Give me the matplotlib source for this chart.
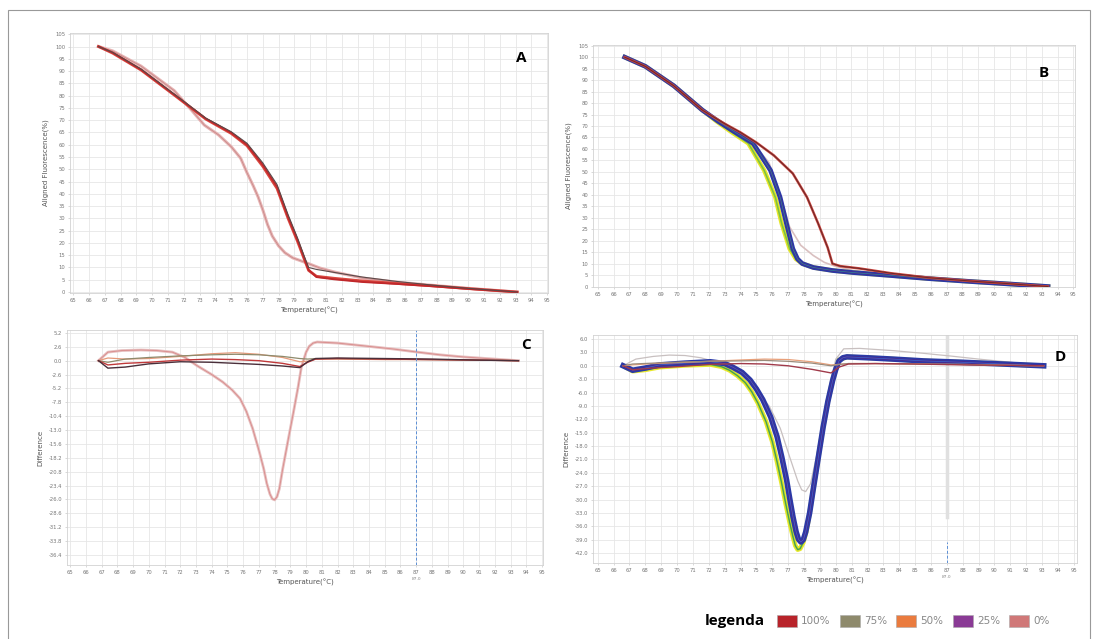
import matplotlib
matplotlib.use('Agg')

import numpy as np
import matplotlib.pyplot as plt
from matplotlib.patches import Patch, Rectangle

# temperature ticks shared by all four panels
temp_ticks = list(range(65, 96))

# --- A: aligned fluorescence, one sample set ---
a_temp = [66.6, 67.5, 69.3, 71.4, 73.4, 75.0, 76.0, 77.0, 77.9, 78.6, 79.2,
          79.6, 79.9, 80.4, 81.5, 83.3, 85.5, 87.6, 90.0, 93.1]
a_100 = [100, 97.5, 90.6, 80.4, 70.6, 64.9, 60.0, 51.8, 42.9, 30.6, 21.2,
         14.3, 9.0, 6.1, 5.2, 4.1, 3.3, 2.4, 1.3, 0]
a_75 = [100, 97.6, 90.8, 80.6, 70.8, 65.3, 60.6, 52.6, 43.8, 31.5, 22.0,
        15.0, 10.0, 9.2, 8.0, 6.1, 4.3, 2.9, 1.5, 0]
a_50 = [100, 97.3, 90.4, 80.2, 70.4, 64.6, 59.6, 51.2, 42.2, 30.0, 20.6,
        13.8, 8.8, 6.4, 5.6, 4.5, 3.5, 2.6, 1.4, 0]
a_temp0 = [66.6, 67.5, 69.3, 71.4, 72.5, 73.3, 74.2, 75.0, 75.6, 76.0, 76.4,
           76.7, 77.0, 77.3, 77.6, 78.0, 78.4, 78.9, 79.8, 80.6, 81.5, 83.3,
           85.5, 87.6, 90.0, 93.1]
a_0 = [100, 98.2, 92.0, 82.0, 74.0, 68.0, 64.0, 59.2, 54.5, 48.6, 43.2,
       38.8, 33.5, 27.5, 22.8, 18.8, 16.0, 13.9, 11.8, 9.8, 8.2, 5.7,
       4.0, 2.8, 1.5, 0]

# --- B: aligned fluorescence, all samples ---
b_temp_red = [66.7, 68.0, 69.8, 71.6, 73.0, 74.0, 75.0, 76.1, 77.3, 78.2,
              78.9, 79.5, 79.8, 80.3, 81.5, 83.5, 85.8, 88.5, 91.0, 93.4]
b_red = [100, 96.0, 87.5, 76.9, 71.0, 67.2, 62.8, 57.2, 49.3, 38.9,
         27.5, 17.0, 10.0, 8.9, 7.9, 5.8, 3.9, 2.4, 1.2, 0]
b_temp_blue = [66.7, 68.0, 69.8, 71.6, 72.6, 73.5, 74.8, 75.9, 76.5, 76.9,
               77.3, 77.6, 77.9, 78.6, 79.8, 81.1, 83.5, 85.8, 88.5, 91.0, 93.4]
b_blue = [100, 96.0, 87.5, 76.9, 72.0, 68.0, 62.4, 50.6, 38.9, 27.5,
          16.5, 12.0, 10.0, 8.3, 7.0, 6.1, 4.8, 3.5, 2.2, 1.1, 0]
b_temp_yel = [66.7, 68.0, 69.8, 71.6, 72.5, 73.3, 74.5, 75.5, 76.2, 76.6,
              77.1, 77.5, 77.9, 78.6, 79.8, 81.1, 83.5, 85.8, 88.5, 91.0, 93.4]
b_yel = [100, 96.0, 87.5, 76.9, 72.0, 68.0, 62.4, 50.6, 38.9, 27.5,
         16.5, 12.0, 10.0, 8.3, 7.0, 6.1, 4.8, 3.5, 2.2, 1.1, 0]
b_temp_0 = [66.7, 68.0, 69.8, 71.6, 72.6, 73.5, 74.8, 75.8, 76.5, 77.1,
            77.8, 78.6, 79.3, 80.0, 81.1, 83.5, 85.8, 88.5, 91.0, 93.4]
b_0 = [100, 96.2, 88.0, 77.5, 72.5, 68.5, 62.5, 54.0, 40.0, 26.0,
       18.0, 13.5, 10.5, 8.8, 7.0, 5.2, 3.7, 2.3, 1.1, 0]

# --- C: difference plot, one sample set ---
c_temp0 = [66.8, 67.4, 68.3, 69.5, 70.5, 71.5, 72.3, 73.1, 74.0, 74.7, 75.3,
           75.8, 76.2, 76.6, 77.0, 77.3, 77.5, 77.7, 77.85, 78.0, 78.15, 78.3,
           78.5, 78.85, 79.2, 79.5, 79.7, 80.0, 80.2, 80.45, 80.7, 82.0, 83.6,
           85.5, 87.1, 88.5, 90.0, 92.0, 93.5]
c_0 = [0, 1.6, 1.9, 2.0, 1.9, 1.6, 0.6, -1.0, -2.6, -4.0, -5.5,
       -7.1, -9.5, -12.7, -16.8, -20.2, -23.0, -25.0, -25.9, -26.1, -25.5, -24.0,
       -20.5, -15.0, -9.6, -4.8, -1.2, 1.6, 2.7, 3.3, 3.5, 3.3, 2.8,
       2.2, 1.6, 1.1, 0.7, 0.3, 0]
c_temp = [66.8, 67.4, 68.5, 70.0, 72.0, 74.0, 75.5, 77.0, 78.5, 79.6, 80.1,
          80.6, 82.0, 85.0, 88.0, 91.0, 93.5]
c_dark = [0, -1.4, -1.2, -0.6, -0.2, -0.3, -0.5, -0.7, -1.0, -1.3, -0.2,
          0.4, 0.5, 0.4, 0.3, 0.1, 0]
c_75 = [0, -0.3, 0.3, 0.6, 0.9, 1.1, 1.2, 1.1, 0.8, 0.4, 0.3,
        0.4, 0.4, 0.3, 0.2, 0.1, 0]
c_50 = [0, 0.5, 0.3, 0.4, 0.8, 1.3, 1.5, 1.2, 0.6, -0.2, -0.1,
        0.3, 0.3, 0.2, 0.2, 0.1, 0]
c_100 = [0, -0.8, -0.5, -0.3, 0.1, 0.3, 0.2, 0.0, -0.5, -1.1, -0.3,
         0.3, 0.4, 0.3, 0.2, 0.1, 0]

# --- D: difference plot, all samples ---
d_temp_blue = [66.6, 67.2, 68.0, 68.9, 70.5, 72.1, 73.0, 73.5, 74.1, 74.6, 75.0,
               75.4, 75.9, 76.3, 76.6, 76.9, 77.1, 77.3, 77.5, 77.65, 77.8, 77.95,
               78.1, 78.35, 78.6, 78.9, 79.2, 79.5, 79.8, 80.0, 80.2, 80.45, 80.7,
               82.0, 83.6, 85.5, 87.9, 90.5, 93.1]
d_blue = [0, -1.0, -0.5, 0.2, 0.6, 0.9, 0.5, -0.3, -1.5, -3.2, -5.2,
          -7.6, -11.5, -15.9, -20.5, -25.6, -29.8, -33.8, -37.2, -38.9, -39.5, -39.0,
          -37.3, -33.0, -27.2, -20.5, -13.8, -8.0, -3.3, -0.8, 1.1, 1.8, 2.0,
          1.8, 1.5, 1.1, 0.8, 0.4, 0]
d_temp_yel = [66.6, 67.2, 68.0, 68.9, 70.5, 72.1, 72.8, 73.3, 73.8, 74.3, 74.7,
              75.1, 75.6, 76.0, 76.3, 76.6, 76.85, 77.1, 77.3, 77.45, 77.6, 77.75,
              77.95, 78.15, 78.35, 78.6, 78.9, 79.2, 79.5, 79.8, 80.0, 80.2, 80.7,
              82.0, 83.6, 85.5, 87.9, 90.5, 93.1]
d_yel = [0, -1.2, -0.9, -0.3, 0.1, 0.3, -0.2, -1.0, -2.2, -3.8, -5.8,
         -8.4, -12.5, -17.0, -21.5, -26.5, -31.0, -35.2, -38.3, -40.3, -41.2, -41.0,
         -39.6, -37.0, -33.0, -27.2, -20.5, -13.8, -8.0, -3.3, -0.8, 1.3, 2.0,
         1.8, 1.5, 1.1, 0.8, 0.4, 0]
d_temp0 = [66.6, 67.4, 68.5, 69.5, 70.5, 71.5, 72.5, 73.3, 74.2, 75.0, 75.8,
           76.5, 77.1, 77.6, 77.85, 78.1, 78.4, 78.8, 79.2, 79.6, 80.0, 80.5,
           81.5, 83.6, 85.5, 87.2, 89.0, 91.0, 93.1]
d_0 = [0, 1.5, 2.1, 2.4, 2.3, 1.8, 0.8, -1.0, -3.0, -5.5, -9.0,
       -14.0, -20.5, -25.8, -27.8, -28.2, -26.5, -20.0, -12.0, -4.5, 1.5, 3.8,
       3.9, 3.4, 2.8, 2.2, 1.5, 0.8, 0]
d_temp = [66.6, 67.2, 68.5, 70.0, 72.0, 74.0, 75.5, 77.0, 78.5, 79.7, 80.2,
          80.8, 82.5, 85.0, 88.0, 91.0, 93.1]
d_red = [0, -0.9, -0.5, -0.2, 0.3, 0.5, 0.4, 0.0, -0.8, -1.6, -0.3,
         0.4, 0.5, 0.4, 0.2, 0.1, 0]
d_orange = [0, 0.2, 0.5, 0.7, 1.0, 1.3, 1.5, 1.4, 0.9, 0.2, 0.3,
            0.5, 0.5, 0.4, 0.3, 0.1, 0]
d_olive = [0, 0.4, 0.6, 0.8, 1.0, 1.1, 1.2, 1.0, 0.6, 0.0, 0.3,
           0.5, 0.5, 0.4, 0.3, 0.1, 0]

fluor_ticks = list(range(0, 106, 5))
c_ticks = [5.2, 2.6, 0.0, -2.6, -5.2, -7.8, -10.4, -13.0, -15.6, -18.2, -20.8,
           -23.4, -26.0, -28.6, -31.2, -33.8, -36.4]
d_ticks = [6.0, 3.0, 0.0, -3.0, -6.0, -9.0, -12.0, -15.0, -18.0, -21.0, -24.0,
           -27.0, -30.0, -33.0, -36.0, -39.0, -42.0]

legend_labels = ['100%', '75%', '50%', '25%', '0%']
legend_colors = ['#b8232a', '#8e8a6c', '#ea7b3e', '#8a3a95', '#d07878']

W, H = 1097, 639
fig = plt.figure(figsize=(W / 100, H / 100), dpi=100)


def box(left, top, right, bottom):
    return [left / W, 1 - bottom / H, (right - left) / W, (bottom - top) / H]


def style(ax, yticks, fmt, ylabel):
    ax.set_xticks(temp_ticks)
    ax.set_xticklabels([str(t) for t in temp_ticks])
    ax.set_yticks(yticks)
    ax.set_yticklabels([fmt.format(v) for v in yticks])
    ax.grid(True, color='#e6e6e6', linewidth=0.6)
    ax.set_axisbelow(True)
    ax.tick_params(labelsize=3.8, labelcolor='#777777', length=1.5,
                   width=0.4, color='#bbbbbb', pad=2)
    for s in ax.spines.values():
        s.set_color('#d2d2d2')
        s.set_linewidth(0.6)
    ax.set_xlabel('Temperature(°C)', fontsize=5, color='#555555', labelpad=3)
    ax.set_ylabel(ylabel, fontsize=5, color='#555555', labelpad=4)


# A
ax1 = fig.add_axes(box(70, 33, 548, 293))
ax1.plot(a_temp0, a_0, color='#e7b4b4', lw=2.2)
ax1.plot(a_temp0, a_0, color='#c98a8a', lw=0.6)
ax1.plot(a_temp, a_50, color='#d9473f', lw=2.0)
ax1.plot(a_temp, a_100, color='#c0282b', lw=1.4)
ax1.plot(a_temp, a_75, color='#5a4a4a', lw=0.8)
ax1.set_xlim(64.8, 95.05)
ax1.set_ylim(-0.4, 105.5)
style(ax1, fluor_ticks, '{:d}', 'Aligned Fluorescence(%)')
ax1.text(0.945, 0.905, 'A', transform=ax1.transAxes, fontsize=11,
         fontweight='bold', family='Open Sans', ha='center', va='center')

# B
ax2 = fig.add_axes(box(593, 45, 1075, 287))
ax2.plot(b_temp_0, b_0, color='#d9c0c0', lw=1.2)
ax2.plot(b_temp_yel, b_yel, color='#e6e629', lw=3.2)
ax2.plot(b_temp_yel, b_yel, color='#7fc241', lw=1.2)
ax2.plot(b_temp_blue, b_blue, color='#2a3aa8', lw=3.4)
ax2.plot(b_temp_blue, b_blue, color='#4b2a8c', lw=1.4)
ax2.plot(b_temp_blue, b_blue, color='#2a8a9a', lw=0.5)
ax2.plot(b_temp_red, b_red, color='#d0463f', lw=1.8)
ax2.plot(b_temp_red, b_red, color='#6e2a2a', lw=0.8)
ax2.set_xlim(64.7, 95.1)
ax2.set_ylim(-0.2, 105.3)
style(ax2, fluor_ticks, '{:d}', 'Aligned Fluorescence(%)')
ax2.text(0.935, 0.885, 'B', transform=ax2.transAxes, fontsize=11,
         fontweight='bold', family='Open Sans', ha='center', va='center')

# C
ax3 = fig.add_axes(box(67, 330, 543, 565))
ax3.plot(c_temp0, c_0, color='#e6c0c0', lw=2.0)
ax3.plot(c_temp0, c_0, color='#d98a8a', lw=0.6)
ax3.plot(c_temp, c_50, color='#e59a7a', lw=0.9)
ax3.plot(c_temp, c_75, color='#8e8a6c', lw=0.9)
ax3.plot(c_temp, c_100, color='#c0393b', lw=1.0)
ax3.plot(c_temp, c_dark, color='#4a2f3a', lw=1.0)
ax3.axvline(87, color='#5b8fd6', lw=0.7, ls=(0, (3, 2)))
ax3.set_xlim(64.8, 95.06)
ax3.set_ylim(-38.3, 5.75)
style(ax3, c_ticks, '{:.1f}', 'Difference')
ax3.text(87, -41.2, '87.0', fontsize=3.2, color='#888888', ha='center')
ax3.text(0.965, 0.935, 'C', transform=ax3.transAxes, fontsize=11,
         fontweight='bold', family='Open Sans', ha='center', va='center')

# D
ax4 = fig.add_axes(box(593, 335, 1077, 563))
ax4.axvline(87, ymin=(-33.9 + 44.2) / 51.1, color='#e0e0e0', lw=2.5)
ax4.axvline(87, ymax=(-39.5 + 44.2) / 51.1, color='#5b8fd6', lw=0.7,
            ls=(0, (3, 2)))
ax4.plot(d_temp0, d_0, color='#c8c0c0', lw=0.9)
ax4.plot(d_temp_yel, d_yel, color='#e8e82a', lw=3.4)
ax4.plot(d_temp_yel, d_yel, color='#86c440', lw=1.4)
ax4.plot(d_temp_yel, d_yel, color='#2f8f5a', lw=0.5)
ax4.plot(d_temp_blue, d_blue, color='#2a3aa8', lw=4.0)
ax4.plot(d_temp_blue, d_blue, color='#4b2a8c', lw=1.6)
ax4.plot(d_temp_blue, d_blue, color='#3a6ad0', lw=0.5)
ax4.plot(d_temp, d_orange, color='#e8a07a', lw=0.9)
ax4.plot(d_temp, d_olive, color='#9a8a7a', lw=0.9)
ax4.plot(d_temp, d_red, color='#a03a4a', lw=1.0)
ax4.set_xlim(64.7, 95.2)
ax4.set_ylim(-44.2, 6.9)
style(ax4, d_ticks, '{:.1f}', 'Difference')
ax4.text(87, -47.6, '87.0', fontsize=3.2, color='#888888', ha='center')
ax4.text(0.965, 0.905, 'D', transform=ax4.transAxes, fontsize=11,
         fontweight='bold', family='Open Sans', ha='center', va='center')

# legend along the bottom edge
fig.text(705 / W, 1 - 621 / H, 'legenda', fontsize=11, fontweight='bold',
         family='Open Sans', va='center')
handles = [Patch(facecolor=c, edgecolor='#aaaaaa', linewidth=0.4)
           for c in legend_colors]
leg = fig.legend(handles, legend_labels, ncol=5, frameon=False,
                 loc='center left', bbox_to_anchor=(772 / W, 1 - 621 / H),
                 fontsize=7.5, handlelength=1.9, handleheight=1.4,
                 handletextpad=0.4, columnspacing=0.9, borderpad=0)
for t in leg.get_texts():
    t.set_color('#888888')

# thin frame round the whole figure
fig.patches.append(Rectangle((8 / W, -0.05), 1082 / W, 1.05 - 10 / H,
                             transform=fig.transFigure, fill=False,
                             edgecolor='#999999', linewidth=0.8))

fig.savefig('out.png', dpi=100)
